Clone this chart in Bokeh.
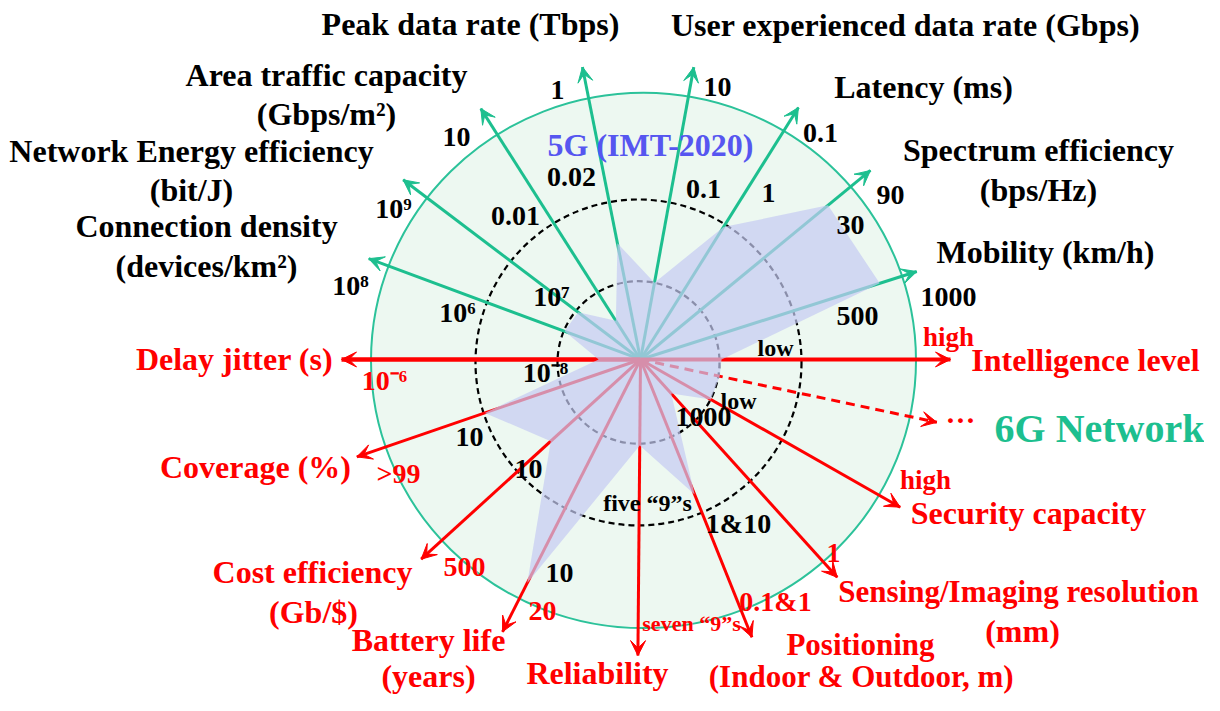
import math
from bokeh.plotting import figure
from bokeh.models import Range1d, Arrow, VeeHead, ColumnDataSource
from bokeh.core.properties import value
from bokeh.embed import file_html
from bokeh.resources import INLINE

# ---------------- data ----------------
axis_names = ["Mobility", "Spectrum efficiency", "Latency", "User experienced data rate",
              "Peak data rate", "Area traffic capacity", "Network Energy efficiency",
              "Connection density", "Delay jitter", "Coverage", "Cost efficiency",
              "Battery life", "Reliability", "Positioning", "Sensing/Imaging resolution",
              "Security capacity", "6G Network", "Intelligence level"]
axis_group = ["5G"] * 8 + ["6G"] * 10
# 5G (IMT-2020) values, as a fraction of the outer circle radius
g5_level = [0.93, 0.90, 0.58, 0.29, 0.44, 0.17, 0.29, 0.30, 0.155, 0.61, 0.45,
            0.93, 0.32, 0.54, 0.17, 0.30, 0.30, 0.30]
g5_ticks = ["500", "30", "1", "0.1", "0.02", "0.01", "10⁷", "10⁶", "10⁻⁸", "10", "10",
            "10", "five “9”s", "1&10", "1000", "low", "", "low"]
g6_ticks = ["1000", "90", "0.1", "10", "1", "10", "10⁹", "10⁸", "10⁻⁶", ">99", "500",
            "20", "seven “9”s", "0.1&1", "1", "high", "", "high"]
titles_black = ["Peak data rate (Tbps)", "User experienced data rate (Gbps)", "Latency (ms)",
                "Spectrum efficiency", "(bps/Hz)", "Mobility (km/h)", "Area traffic capacity",
                "(Gbps/m²)", "Network Energy efficiency", "(bit/J)", "Connection density",
                "(devices/km²)"]
titles_red = ["Delay jitter (s)", "Intelligence level", "Coverage (%)", "Cost efficiency",
              "(Gb/$)", "Battery life", "(years)", "Reliability", "Positioning",
              "(Indoor & Outdoor, m)", "Sensing/Imaging resolution", "(mm)", "Security capacity"]

# ---------------- layout ----------------
CX, CY = 640, 360
R_OUT = 270
ang = [17.7, 39.5, 58.0, 79.7, 101.2, 122.4, 142.8, 159.6, 180.0, 199.0, 222.4,
       243.2, 269.5, 291.8, 312.0, 330.3, 348.0, 0.0]
arr_len = [290, 298, 298, 298, 299, 298, 298, 290, 299, 300, 297, 306, 297, 300, 294, 299, 303, 310]
lw = [3, 3, 3, 3, 3, 3, 3, 3, 4.5, 3, 3, 3, 3, 3, 3, 3, 3, 4]
g5_pos = [(857, 316), (850, 225), (768, 193), (703, 189), (571, 177), (515, 216), (551, 297),
          (457, 313), (545, 373), (469, 438), (528, 470), (559, 574), (647, 504), (738, 525),
          (703, 418), (738, 402), (0, 0), (775, 349)]
g6_pos = [(948, 297), (890, 195), (820, 133), (717, 87), (557, 90), (456, 137), (393, 209),
          (350, 286), (384, 381), (398, 474), (464, 568), (542, 612), (691, 625), (775, 603),
          (833, 554), (925, 481), (0, 0), (948, 337)]
tb_pos = [(470, 24), (905, 25), (923, 87), (1038, 150), (1038, 190), (1045, 252), (326, 75),
          (326, 114), (191, 151), (191, 190), (206, 226), (206, 266)]
tr_pos = [(234, 360), (1085, 361), (255, 468), (312, 573), (313, 613), (428, 641), (428, 677),
          (597, 674), (860, 646), (861, 678), (1018, 593), (1022, 632), (1028, 514)]
tr_size = ["32px"] * 8 + ["31px", "31px", "31px"] + ["32px"] * 2

GREEN = "#1dbf8f"
RED = "#ff0000"
FONT = value("Liberation Serif")

p = figure(width=1204, height=695, x_range=Range1d(0, 1204), y_range=Range1d(697, 0),
           toolbar_location=None, output_backend="svg", min_border=0,
           x_axis_location=None, y_axis_location=None)
p.outline_line_color = None
p.grid.grid_line_color = None
p.background_fill_color = "white"

# background disc and rings
p.ellipse(x=[643], y=[361], width=545, height=537, fill_color="#edf8f1",
          line_color="#2cc29a", line_width=2)
p.ellipse(x=[638, 638], y=[363, 363], width=[162, 326], height=[163, 327],
          fill_color=None, line_color="black", line_width=2.2, line_dash="6 4")


def pt(a, r):
    t = math.radians(a)
    return CX + r * math.cos(t), CY - r * math.sin(t)


# axis lines
seg = dict(x0=[], y0=[], x1=[], y1=[], c=[], w=[])
dseg = dict(x0=[], y0=[], x1=[], y1=[], c=[], w=[])
heads = {"5G": dict(x0=[], y0=[], x1=[], y1=[]), "6G": dict(x0=[], y0=[], x1=[], y1=[])}
for i in range(len(axis_names)):
    x1, y1 = pt(ang[i], arr_len[i])
    xb, yb = pt(ang[i], arr_len[i] - 4)
    d = dseg if axis_names[i] == "6G Network" else seg
    d["x0"].append(CX); d["y0"].append(CY); d["x1"].append(x1); d["y1"].append(y1)
    d["c"].append(GREEN if axis_group[i] == "5G" else RED); d["w"].append(lw[i])
    h = heads[axis_group[i]]
    h["x0"].append(xb); h["y0"].append(yb); h["x1"].append(x1); h["y1"].append(y1)

p.segment("x0", "y0", "x1", "y1", source=ColumnDataSource(seg), line_color="c", line_width="w")
p.segment("x0", "y0", "x1", "y1", source=ColumnDataSource(dseg), line_color="c", line_width="w",
          line_dash="9 6")
for g, col in (("5G", GREEN), ("6G", RED)):
    p.add_layout(Arrow(end=VeeHead(size=15, fill_color=col, line_color=col, line_width=1),
                       x_start="x0", y_start="y0", x_end="x1", y_end="y1",
                       source=ColumnDataSource(heads[g]), line_color=col, line_width=3))

# 5G polygon (drawn on top of the axes)
px = [pt(ang[i], g5_level[i] * R_OUT)[0] for i in range(len(ang))]
py = [pt(ang[i], g5_level[i] * R_OUT)[1] for i in range(len(ang))]
p.patch(px, py, fill_color="#c5caf2", fill_alpha=0.7, line_alpha=0)

# texts
T = dict(x=[], y=[], t=[], c=[], s=[])


def add(t, xy, c, s):
    if not t:
        return
    T["x"].append(xy[0]); T["y"].append(xy[1]); T["t"].append(t); T["c"].append(c); T["s"].append(s)


small = {"low": "24px", "five “9”s": "24px", "seven “9”s": "22px", "high": "27px"}
for i in range(len(axis_names)):
    add(g5_ticks[i], g5_pos[i], "black", small.get(g5_ticks[i], "28px"))
    add(g6_ticks[i], g6_pos[i], "black" if axis_group[i] == "5G" else RED,
        small.get(g6_ticks[i], "28px"))
for t, xy in zip(titles_black, tb_pos):
    add(t, xy, "black", "32px")
for t, xy, s in zip(titles_red, tr_pos, tr_size):
    add(t, xy, RED, s)
add("5G (IMT-2020)", (650, 145), "#5656f0", "32px")
add("6G Network", (1099, 429), GREEN, "40px")
add("···", (960, 420), RED, "30px")

p.text("x", "y", text="t", source=ColumnDataSource(T), text_color="c", text_font_size="s",
       text_font=FONT, text_font_style="bold", text_align="center", text_baseline="middle")

open("out.html", "w").write(file_html(p, INLINE))
